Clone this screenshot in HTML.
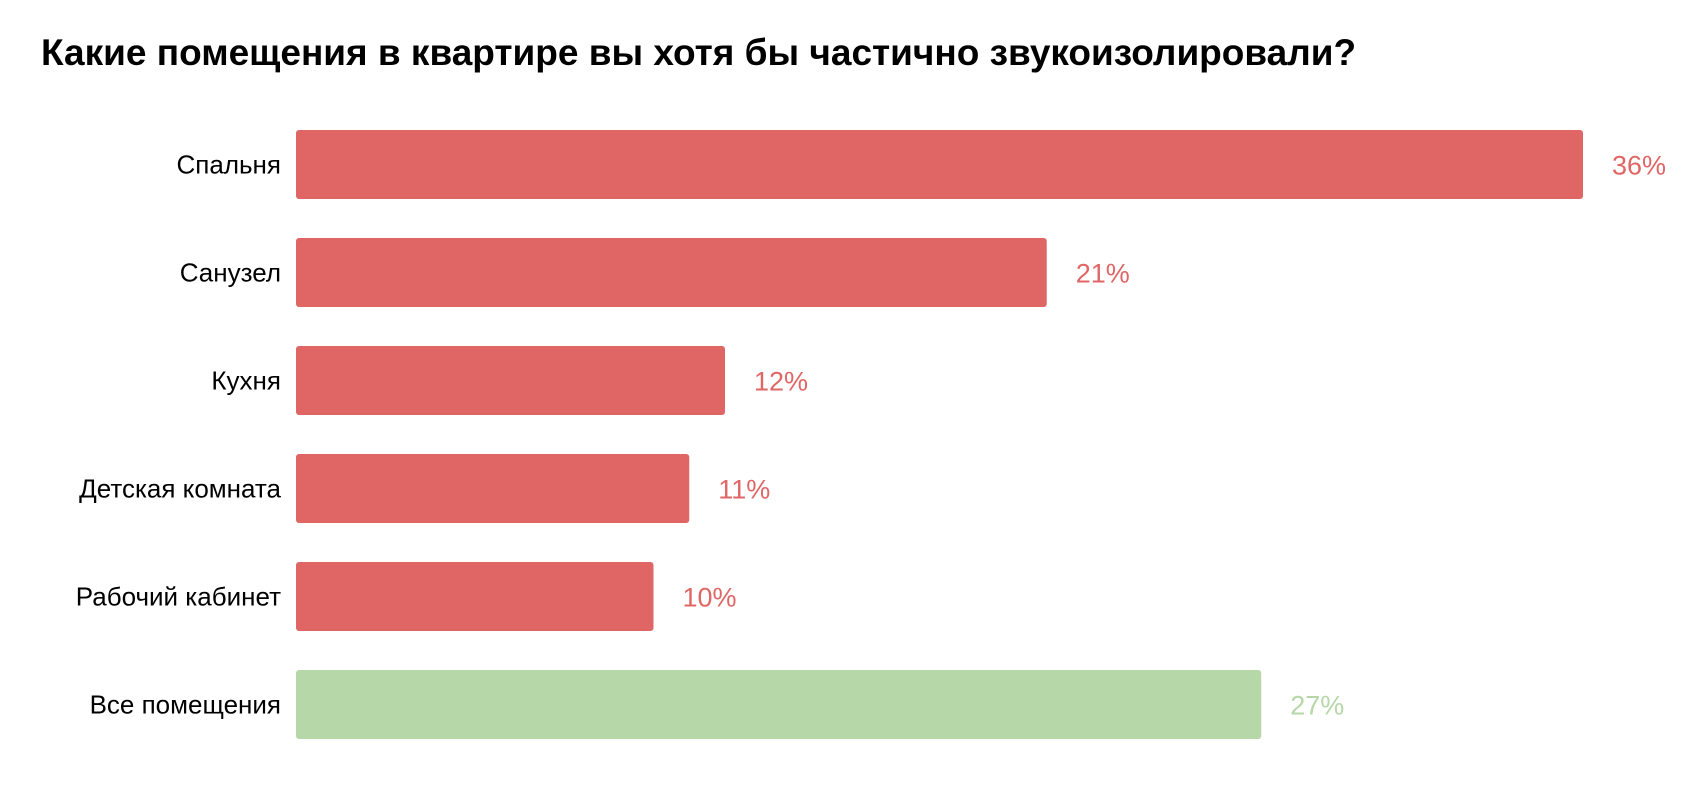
<!DOCTYPE html>
<html><head><meta charset="utf-8"><style>
html,body{margin:0;padding:0;background:#fff;width:1690px;height:788px;overflow:hidden;font-family:"Liberation Sans",Arial,sans-serif}
</style></head><body>
<svg width="1690" height="788" id="chart">
<text x="41" y="65" font-size="37" font-weight="bold" fill="#000">Какие помещения в квартире вы хотя бы частично звукоизолировали?</text>
<g id="bars"></g>
</svg>
<script>
const categories=["Спальня","Санузел","Кухня","Детская комната","Рабочий кабинет","Все помещения"];
const values=[36,21,12,11,10,27];
const valueLabels=["36%","21%","12%","11%","10%","27%"];
const colors=["#e06666","#e06666","#e06666","#e06666","#e06666","#b6d7a8"];
const x0=296, xMaxW=1287, maxV=36, y0=130, step=108, bh=69;
const xs=v=>v/maxV*xMaxW;
const g=document.getElementById('bars');
const ns="http://www.w3.org/2000/svg";
categories.forEach((c,i)=>{
 const y=y0+i*step;
 const r=document.createElementNS(ns,'rect');
 
 
 r.setAttribute('x',x0);r.setAttribute('y',y);r.setAttribute('width',xs(values[i]));r.setAttribute('height',bh);r.setAttribute('rx',3);r.setAttribute('fill',colors[i]);
 g.appendChild(r);
 const t=document.createElementNS(ns,'text');
 
 
 t.setAttribute('x',281);t.setAttribute('y',y+bh/2+9);t.setAttribute('text-anchor','end');t.setAttribute('font-size','26');t.setAttribute('fill','#000');
 t.textContent=c;g.appendChild(t);
 const v=document.createElementNS(ns,'text');
 
 
 v.setAttribute('x',x0+xs(values[i])+29);v.setAttribute('y',y+bh/2+10);v.setAttribute('font-size','27');v.setAttribute('fill',colors[i]);
 v.textContent=valueLabels[i];g.appendChild(v);
});
</script>
</body></html>
